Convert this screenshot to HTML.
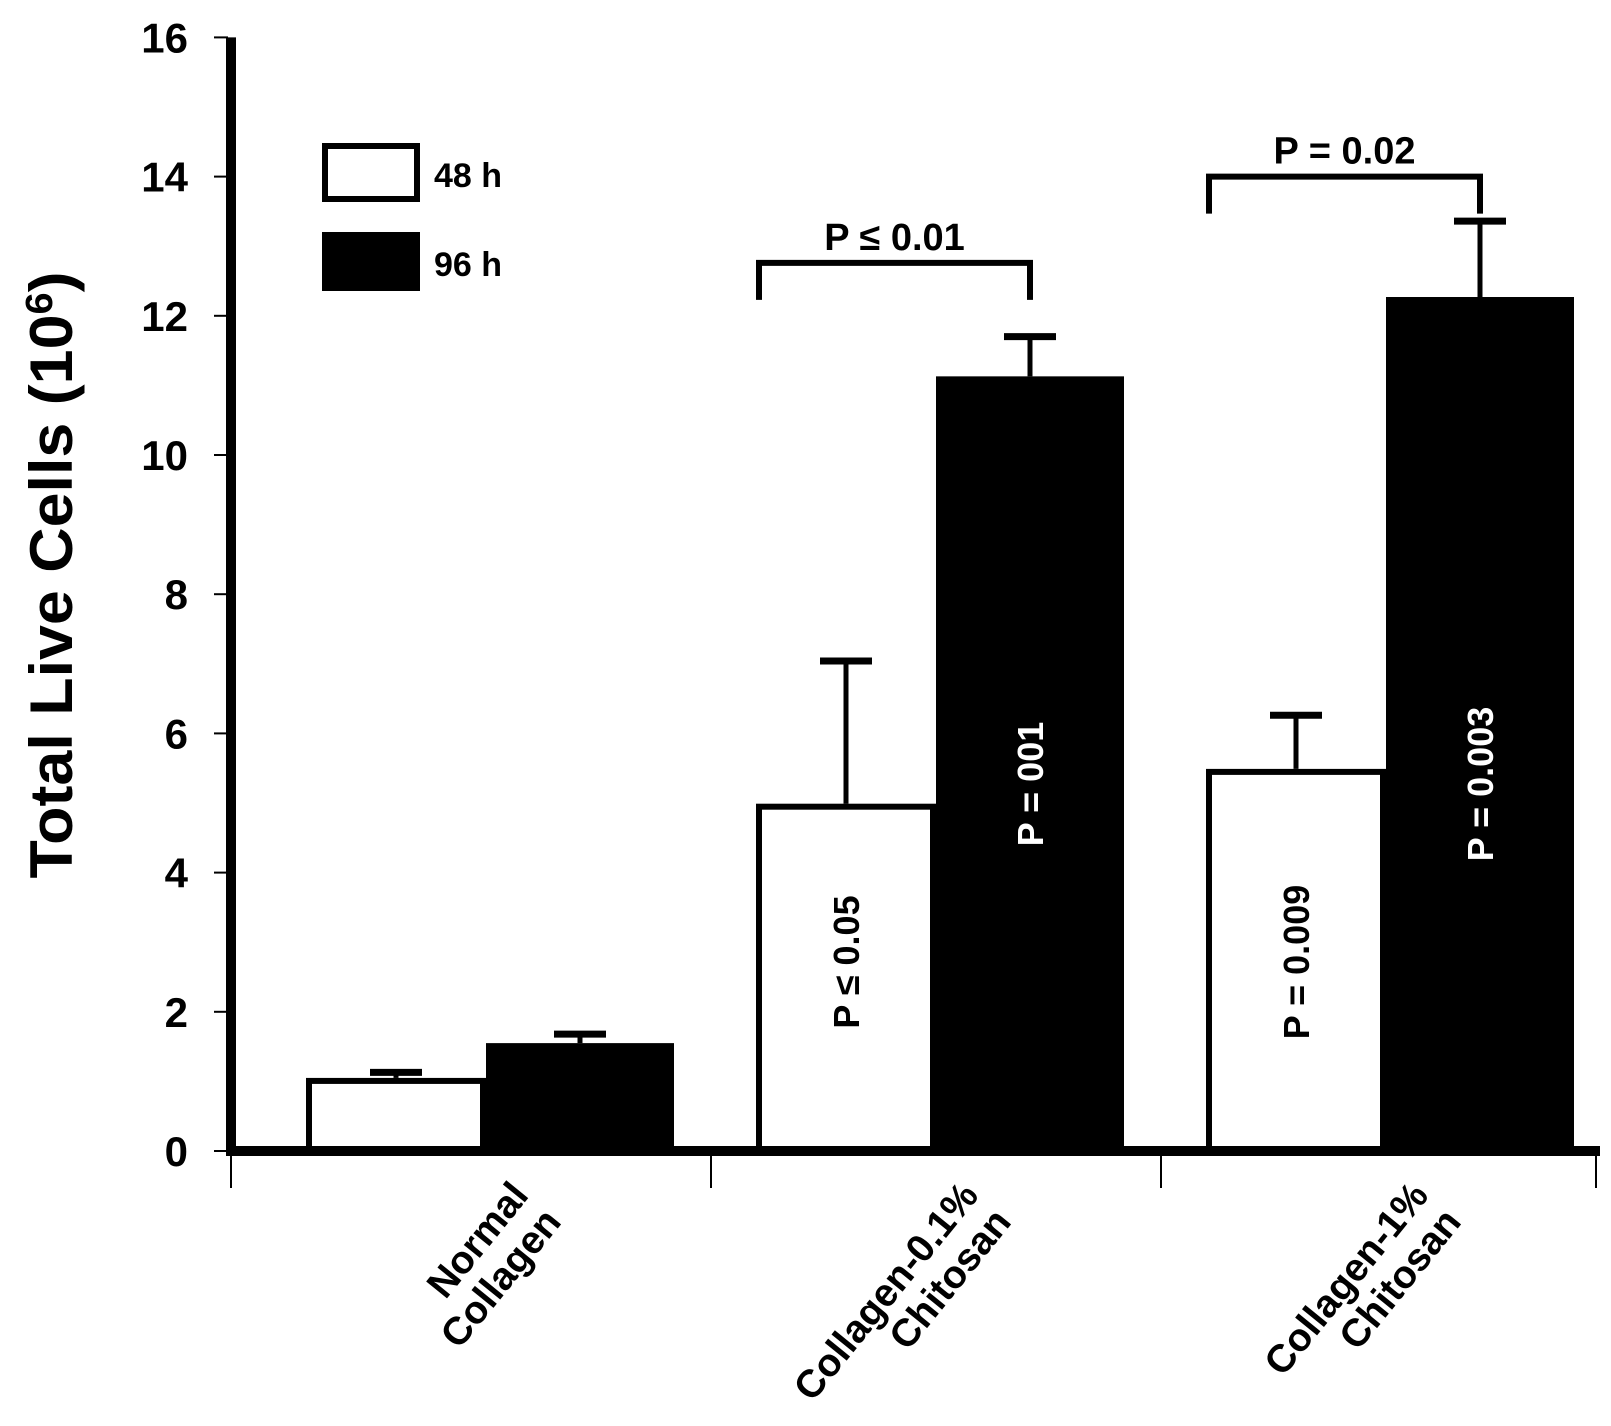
<!DOCTYPE html>
<html><head><meta charset="utf-8"><style>
html,body{margin:0;padding:0;background:#fff}
svg{display:block;font-family:"Liberation Sans",Arial,sans-serif;font-weight:bold}
</style></head><body>
<svg id="chart" width="1611" height="1426" viewBox="0 0 1611 1426" xmlns="http://www.w3.org/2000/svg">
<rect width="1611" height="1426" fill="#fff"/>
<g id="g"></g>
</svg>
<script>
const categories = [["Normal","Collagen"],["Collagen-0.1%","Chitosan"],["Collagen-1%","Chitosan"]];
const vals48 = [1.05, 4.99, 5.49];
const err48 = [0.08, 2.05, 0.77];
const vals96 = [1.55, 11.13, 12.27];
const err96 = [0.13, 0.57, 1.09];
const inBar48 = ["", "P \u2264 0.05", "P = 0.009"];
const inBar96 = ["", "P = 001", "P = 0.003"];
const bracketGroups = [1, 2];
const bracketVals = [12.76, 14.0];
const bracketLabels = ["P \u2264 0.01", "P = 0.02"];
const yTicks = [0, 2, 4, 6, 8, 10, 12, 14, 16];

const NS = "http://www.w3.org/2000/svg";
const g = document.getElementById("g");
const Y0 = 1151, PXU = 69.6;
function y(v){ return Y0 - v * PXU; }
function xMid(i){ return 486 + i * 450; }
const W48 = 180, W96 = 188;
function mk(tag, attrs, parent){
  const e = document.createElementNS(NS, tag);
  for (const k in attrs) e.setAttribute(k, attrs[k]);
  (parent || g).appendChild(e);
  return e;
}

yTicks.forEach(t => {
  const tk = mk("line", {x1:214, x2:228, y1:y(t), y2:y(t), stroke:"#000", "stroke-width":2});
  
  
  const lb = mk("text", {x:188, y:y(t)+15, "text-anchor":"end", "font-size":42});
  lb.textContent = t;
  
  
});

categories.forEach((c, i) => {
  const m = xMid(i);
  const b1 = mk("rect", {x:m - W48 + 3, y:y(vals48[i]) + 3, width:W48 - 6, height:Y0 - y(vals48[i]) - 3, fill:"#fff", stroke:"#000", "stroke-width":6});
  
  
  const b2 = mk("rect", {x:m, y:y(vals96[i]), width:W96, height:Y0 - y(vals96[i]), fill:"#000"});
  
  
  [[m - W48/2, vals48[i], err48[i]], [m + W96/2, vals96[i], err96[i]]].forEach(([cx, v, e]) => {
    const st = mk("line", {x1:cx, x2:cx, y1:y(v), y2:y(v + e), stroke:"#000", "stroke-width":5});
    
    
    const cap = mk("line", {x1:cx - 26, x2:cx + 26, y1:y(v + e), y2:y(v + e), stroke:"#000", "stroke-width":7});
    
    
  });
  if (inBar48[i]) {
    const cx = m - W48/2 + 13, cy = 962;
    const t = mk("text", {x:0, y:0, "text-anchor":"middle", "font-size":36, transform:`translate(${cx},${cy}) rotate(-90)`});
    t.textContent = inBar48[i];
    
    
  }
  if (inBar96[i]) {
    const cx = m + W96/2 + 13, cy = 784;
    const t = mk("text", {x:0, y:0, "text-anchor":"middle", "font-size":36, fill:"#fff", transform:`translate(${cx},${cy}) rotate(-90)`});
    t.textContent = inBar96[i];
    
    
  }
  const lbl = mk("text", {"text-anchor":"end", "font-size":39, transform:`translate(${m + 44},${1196}) rotate(-51)`});
  
  
  c.forEach((line, k) => {
    const ts = mk("tspan", {x:0, y: k * 42}, lbl);
    ts.textContent = line;
  });
});

bracketGroups.forEach((gi, k) => {
  const m = xMid(gi);
  const x1 = m - W48 + 3, x2 = m + W96/2, by = y(bracketVals[k]);
  const p = mk("path", {d:`M${x1},${by+37} V${by} H${x2} V${by+37}`, fill:"none", stroke:"#000", "stroke-width":6});
  
  
  const t = mk("text", {x:(x1 + x2)/2, y:by - 13, "text-anchor":"middle", "font-size":38});
  t.textContent = bracketLabels[k];
  
  
});

const ya = mk("line", {x1:231, x2:231, y1:y(16), y2:Y0 + 5, stroke:"#000", "stroke-width":10});


const xa = mk("line", {x1:226, x2:1600, y1:Y0, y2:Y0, stroke:"#000", "stroke-width":10});


[231, (xMid(0)+xMid(1))/2, (xMid(1)+xMid(2))/2, 1596].forEach(tx => {
  const tk = mk("line", {x1:tx, x2:tx, y1:Y0, y2:1188, stroke:"#000", "stroke-width":2});
  
  
});

const yt = mk("text", {"text-anchor":"middle", "font-size":60, textLength:607, lengthAdjust:"spacingAndGlyphs", transform:"translate(72,575) rotate(-90)"});


yt.innerHTML = 'Total Live Cells (10<tspan dy="-20" font-size="38">6</tspan><tspan dy="20">)</tspan>';

const l1 = mk("rect", {x:325, y:146, width:92, height:53, fill:"#fff", stroke:"#000", "stroke-width":6});


const l2 = mk("rect", {x:322, y:232, width:98, height:59, fill:"#000"});


const t1 = mk("text", {x:434, y:187, "font-size":34});
t1.textContent = "48 h";


const t2 = mk("text", {x:434, y:276, "font-size":34});
t2.textContent = "96 h";


</script>
</body></html>
